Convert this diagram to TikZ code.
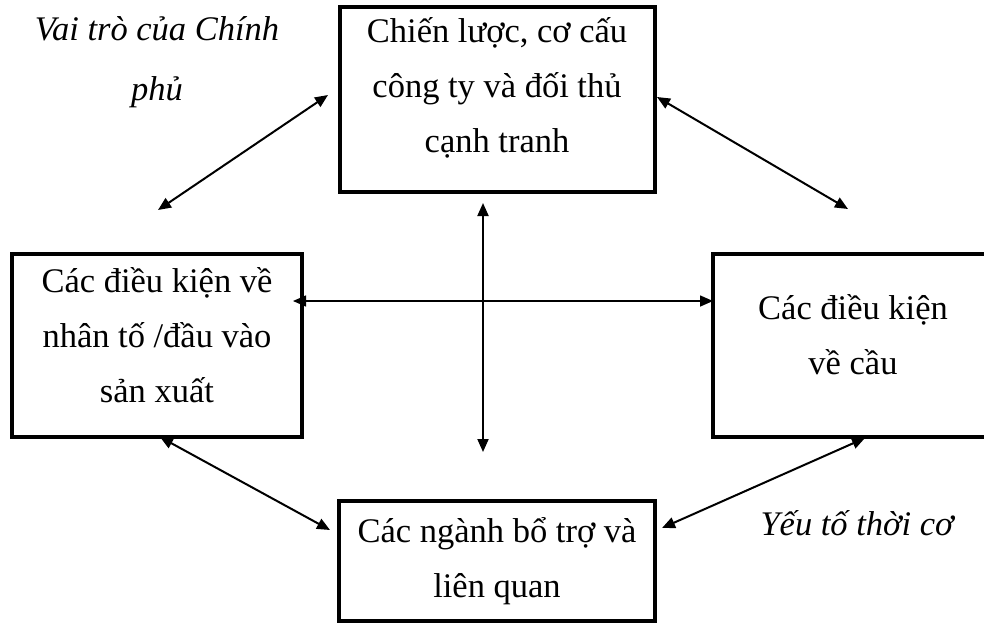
\documentclass[tikz,border=0pt]{standalone}
\usepackage{fontspec}
\setmainfont{Liberation Serif}
\usetikzlibrary{arrows.meta}
\begin{document}
\begin{tikzpicture}[x=1pt,y=-1pt,
  factor/.style={draw, line width=3.8pt, inner sep=0pt},
  % anchor=base sits on the baseline of the last line
  boxtext/.style={font=\fontsize{34.5}{55}\selectfont, align=center, anchor=base, inner sep=0pt},
  note/.style={font=\fontsize{34.5}{60}\selectfont\itshape, align=center, anchor=base, inner sep=0pt},
  link/.style={{Triangle[length=13pt,width=11pt]}-{Triangle[length=13pt,width=11pt]}, line width=2pt},
]
\useasboundingbox (0,0) rectangle (984,625);
\clip (0,0) rectangle (984,625);

% the four determinants
\node[factor, minimum width=315pt, minimum height=185pt] (strategy) at (497.5,99.5) {};
\node[factor, minimum width=290pt, minimum height=183pt] (factors) at (157,345.5) {};
\node[factor, minimum width=290pt, minimum height=183pt] (demand) at (858,345.5) {};
\node[factor, minimum width=316pt, minimum height=120pt] (related) at (497,561) {};

% box texts
\node[boxtext] (strategyT) at (497,152) {Chiến lược, cơ cấu\\công ty và đối thủ\\cạnh tranh};
\node[boxtext] (factorsT) at (157,402) {Các điều kiện về\\nhân tố /đầu vào\\sản xuất};
\node[boxtext] (demandT) at (853,374) {Các điều kiện\\về cầu};
\node[boxtext] (relatedT) at (497,597) {Các ngành bổ trợ và\\liên quan};

% outside influences
\node[note] (government) at (157,100) {Vai trò của Chính\\phủ};
\node[note] (chance) at (857,535) {Yếu tố thời cơ};

% connector end points
\coordinate (tlA) at (158,210);
\coordinate (tlB) at (328,95);
\coordinate (trA) at (657,97);
\coordinate (trB) at (848,209);
\coordinate (vA) at (483,203);
\coordinate (vB) at (483,452);
\coordinate (hA) at (293,301);
\coordinate (hB) at (713,301);
\coordinate (blA) at (160,437);
\coordinate (blB) at (330,530);
\coordinate (brA) at (865,438);
\coordinate (brB) at (662,528);

\draw[link] (tlA) -- (tlB);
\draw[link] (trA) -- (trB);
\draw[link] (vA) -- (vB);
\draw[link, line width=1.5pt] (hA) -- (hB);
\draw[link] (blA) -- (blB);
\draw[link] (brA) -- (brB);
\end{tikzpicture}
\end{document}
